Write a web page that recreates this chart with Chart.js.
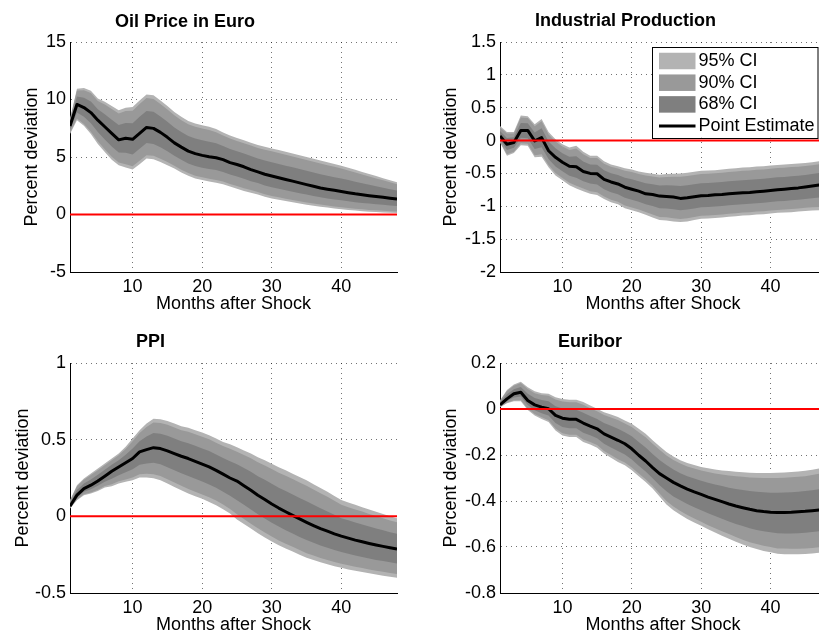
<!DOCTYPE html>
<html><head><meta charset="utf-8">
<script src="https://cdn.jsdelivr.net/npm/chart.js@4.4.1/dist/chart.umd.min.js"></script>
<style>
html,body{margin:0;padding:0;background:#fff;}
body{width:819px;height:637px;overflow:hidden;position:relative;}
canvas{position:absolute;}
</style></head><body>
<canvas id="c1" width="410" height="318" style="left:0px;top:0px"></canvas>
<canvas id="c2" width="430" height="318" style="left:410px;top:0px"></canvas>
<canvas id="c3" width="410" height="319" style="left:0px;top:318px"></canvas>
<canvas id="c4" width="430" height="319" style="left:410px;top:318px"></canvas>
<script>
// ---------------- DATA ----------------
const months = [1,2,3,4,5,6,7,8,9,10,11,12,13,14,15,16,17,18,19,20,21,22,23,24,25,26,27,28,29,30,31,32,33,34,35,36,37,38,39,40,41,42,43,44,45,46,47,48];
const xTicks = [10,20,30,40];
const xTickLabels = ['10','20','30','40'];
const xAxisTitle = 'Months after Shock';
const yAxisTitle = 'Percent deviation';
const ciLabels = ['95% CI','90% CI','68% CI'];
const pointLabel = 'Point Estimate';
const referenceLevel = 0;

// Oil Price in Euro
const oilTitle = 'Oil Price in Euro';
const oilYTicks = [-5,0,5,10,15];
const oilYLabels = ['-5','0','5','10','15'];
const oilEst = [7.7,9.57,9.3,8.86,8.2,7.63,7.06,6.49,6.63,6.54,7.06,7.57,7.49,7.14,6.71,6.23,5.86,5.51,5.29,5.14,5.03,4.94,4.77,4.51,4.35,4.15,3.9,3.7,3.5,3.35,3.2,3.05,2.9,2.75,2.6,2.45,2.3,2.2,2.1,2.0,1.9,1.8,1.72,1.64,1.56,1.49,1.42,1.35];
const oilU95 = [8.3,10.94,11.0,10.77,10.09,9.8,9.43,9.06,9.29,9.34,9.91,10.43,10.37,9.91,9.43,8.91,8.49,8.14,7.91,7.77,7.63,7.43,7.14,6.86,6.65,6.45,6.25,6.05,5.9,5.75,5.6,5.45,5.3,5.15,5.0,4.85,4.7,4.55,4.4,4.25,4.07,3.89,3.7,3.52,3.34,3.15,2.97,2.8];
const oilL95 = [7.0,8.2,7.71,7.0,6.14,5.43,4.77,4.29,4.09,3.91,4.37,4.86,4.8,4.57,4.29,4.0,3.66,3.37,3.14,3.0,2.86,2.77,2.63,2.43,2.25,2.05,1.9,1.75,1.55,1.4,1.28,1.17,1.06,0.95,0.85,0.76,0.68,0.6,0.52,0.45,0.39,0.34,0.29,0.25,0.21,0.18,0.15,0.12];
const oilU90 = [8.23,10.79,10.81,10.56,9.88,9.56,9.17,8.78,9.0,9.03,9.6,10.12,10.05,9.61,9.13,8.62,8.2,7.85,7.62,7.48,7.34,7.16,6.88,6.6,6.4,6.2,5.99,5.79,5.64,5.49,5.34,5.19,5.04,4.89,4.74,4.59,4.44,4.29,4.15,4.0,3.83,3.66,3.48,3.31,3.14,2.97,2.8,2.64];
const oilL90 = [7.08,8.35,7.88,7.2,6.37,5.67,5.02,4.53,4.37,4.2,4.67,5.16,5.1,4.85,4.56,4.25,3.9,3.61,3.38,3.24,3.1,3.01,2.87,2.66,2.48,2.28,2.12,1.96,1.76,1.61,1.49,1.38,1.26,1.15,1.04,0.95,0.86,0.78,0.69,0.62,0.56,0.5,0.45,0.4,0.36,0.32,0.29,0.26];
const oilU68 = [8.0,10.26,10.15,9.82,9.15,8.72,8.25,7.78,7.96,7.94,8.49,9.0,8.93,8.53,8.07,7.57,7.18,6.83,6.6,6.46,6.33,6.19,5.96,5.69,5.5,5.3,5.08,4.88,4.7,4.55,4.4,4.25,4.1,3.95,3.8,3.65,3.5,3.38,3.25,3.13,2.99,2.85,2.71,2.58,2.45,2.32,2.2,2.08];
const oilL68 = [7.35,8.88,8.5,7.93,7.17,6.53,5.91,5.39,5.36,5.22,5.71,6.21,6.14,5.85,5.5,5.11,4.76,4.44,4.21,4.07,3.95,3.86,3.7,3.47,3.3,3.1,2.9,2.73,2.53,2.38,2.24,2.11,1.98,1.85,1.73,1.61,1.49,1.4,1.31,1.23,1.15,1.07,1.0,0.95,0.89,0.84,0.79,0.74];

// Industrial Production
const ipTitle = 'Industrial Production';
const ipYTicks = [-2,-1.5,-1,-0.5,0,0.5,1,1.5];
const ipYLabels = ['-2','-1.5','-1','-0.5','0','0.5','1','1.5'];
const ipEst = [0.07,-0.055,-0.03,0.155,0.155,-0.005,0.045,-0.155,-0.255,-0.33,-0.39,-0.4,-0.47,-0.5,-0.505,-0.59,-0.63,-0.66,-0.71,-0.74,-0.77,-0.81,-0.82,-0.845,-0.85,-0.86,-0.88,-0.87,-0.855,-0.84,-0.835,-0.825,-0.82,-0.81,-0.8,-0.795,-0.79,-0.78,-0.77,-0.76,-0.75,-0.74,-0.73,-0.72,-0.705,-0.69,-0.675,-0.66];
const ipU95 = [0.22,0.13,0.13,0.38,0.37,0.25,0.33,0.13,0.02,-0.055,-0.105,-0.08,-0.17,-0.23,-0.23,-0.315,-0.365,-0.39,-0.42,-0.44,-0.47,-0.49,-0.505,-0.52,-0.51,-0.505,-0.5,-0.49,-0.475,-0.46,-0.455,-0.45,-0.44,-0.43,-0.42,-0.41,-0.405,-0.395,-0.39,-0.38,-0.37,-0.365,-0.355,-0.35,-0.34,-0.33,-0.315,-0.3];
const ipL95 = [-0.03,-0.23,-0.19,-0.07,-0.08,-0.255,-0.245,-0.405,-0.53,-0.605,-0.68,-0.73,-0.77,-0.81,-0.83,-0.89,-0.94,-0.97,-1.03,-1.06,-1.09,-1.13,-1.17,-1.21,-1.215,-1.23,-1.24,-1.23,-1.21,-1.19,-1.185,-1.18,-1.17,-1.16,-1.15,-1.14,-1.135,-1.125,-1.12,-1.11,-1.1,-1.095,-1.09,-1.08,-1.07,-1.065,-1.06,-1.05];
const ipU90 = [0.2,0.106,0.109,0.351,0.342,0.217,0.293,0.093,-0.016,-0.091,-0.142,-0.122,-0.209,-0.265,-0.266,-0.351,-0.4,-0.425,-0.458,-0.479,-0.509,-0.532,-0.546,-0.562,-0.554,-0.551,-0.549,-0.539,-0.524,-0.509,-0.504,-0.499,-0.489,-0.479,-0.469,-0.46,-0.455,-0.445,-0.439,-0.429,-0.419,-0.414,-0.404,-0.398,-0.387,-0.377,-0.362,-0.347];
const ipL90 = [-0.017,-0.207,-0.169,-0.041,-0.049,-0.223,-0.207,-0.373,-0.494,-0.569,-0.642,-0.687,-0.731,-0.77,-0.788,-0.851,-0.9,-0.93,-0.988,-1.018,-1.048,-1.088,-1.125,-1.163,-1.168,-1.182,-1.193,-1.183,-1.164,-1.145,-1.14,-1.134,-1.125,-1.115,-1.105,-1.095,-1.09,-1.08,-1.075,-1.065,-1.055,-1.049,-1.043,-1.033,-1.023,-1.016,-1.01,-1.0];
const ipU68 = [0.145,0.038,0.05,0.268,0.263,0.123,0.188,-0.013,-0.118,-0.193,-0.248,-0.24,-0.32,-0.365,-0.368,-0.453,-0.498,-0.525,-0.565,-0.59,-0.62,-0.65,-0.663,-0.683,-0.68,-0.683,-0.69,-0.68,-0.665,-0.65,-0.645,-0.638,-0.63,-0.62,-0.61,-0.603,-0.598,-0.588,-0.58,-0.57,-0.56,-0.553,-0.543,-0.535,-0.523,-0.51,-0.495,-0.48];
const ipL68 = [0.02,-0.143,-0.11,0.043,0.037,-0.13,-0.1,-0.28,-0.393,-0.468,-0.535,-0.565,-0.62,-0.655,-0.668,-0.74,-0.785,-0.815,-0.87,-0.9,-0.93,-0.97,-0.995,-1.028,-1.033,-1.045,-1.06,-1.05,-1.033,-1.015,-1.01,-1.003,-0.995,-0.985,-0.975,-0.968,-0.963,-0.953,-0.945,-0.935,-0.925,-0.918,-0.91,-0.9,-0.888,-0.878,-0.868,-0.855];

// PPI
const ppiTitle = 'PPI';
const ppiYTicks = [-0.5,0,0.5,1];
const ppiYLabels = ['-0.5','0','0.5','1'];
const ppiEst = [0.066,0.138,0.181,0.203,0.231,0.262,0.294,0.322,0.349,0.377,0.42,0.435,0.448,0.442,0.427,0.409,0.392,0.377,0.359,0.34,0.322,0.3,0.275,0.25,0.23,0.2,0.17,0.138,0.11,0.08,0.054,0.03,0.006,-0.017,-0.039,-0.06,-0.08,-0.097,-0.114,-0.129,-0.142,-0.155,-0.166,-0.177,-0.187,-0.196,-0.205,-0.213];
const ppiU95 = [0.105,0.203,0.246,0.279,0.312,0.344,0.377,0.409,0.453,0.507,0.561,0.605,0.637,0.633,0.622,0.605,0.587,0.577,0.561,0.546,0.529,0.507,0.485,0.47,0.45,0.43,0.41,0.385,0.365,0.343,0.32,0.3,0.278,0.256,0.235,0.21,0.185,0.16,0.133,0.106,0.09,0.075,0.06,0.045,0.03,0.015,0.0,-0.013];
const ppiL95 = [0.051,0.105,0.138,0.149,0.166,0.188,0.196,0.214,0.225,0.236,0.253,0.253,0.249,0.236,0.214,0.192,0.17,0.149,0.131,0.114,0.094,0.073,0.047,0.018,-0.02,-0.05,-0.08,-0.11,-0.138,-0.164,-0.188,-0.21,-0.23,-0.25,-0.27,-0.285,-0.3,-0.313,-0.325,-0.336,-0.346,-0.355,-0.363,-0.372,-0.38,-0.387,-0.394,-0.4];
const ppiU90 = [0.1,0.195,0.238,0.269,0.301,0.333,0.366,0.398,0.439,0.49,0.543,0.583,0.612,0.608,0.597,0.58,0.562,0.551,0.535,0.519,0.502,0.48,0.458,0.441,0.421,0.4,0.379,0.353,0.332,0.309,0.285,0.265,0.243,0.221,0.199,0.175,0.151,0.127,0.101,0.075,0.06,0.045,0.031,0.016,0.002,-0.012,-0.027,-0.039];
const ppiL90 = [0.053,0.109,0.144,0.156,0.174,0.198,0.209,0.228,0.241,0.254,0.275,0.277,0.275,0.263,0.242,0.22,0.199,0.179,0.161,0.143,0.124,0.103,0.077,0.048,0.013,-0.018,-0.048,-0.078,-0.106,-0.132,-0.157,-0.179,-0.199,-0.22,-0.24,-0.256,-0.271,-0.285,-0.298,-0.309,-0.319,-0.329,-0.337,-0.347,-0.355,-0.362,-0.369,-0.376];
const ppiU68 = [0.086,0.171,0.214,0.241,0.272,0.303,0.336,0.366,0.401,0.442,0.49,0.52,0.543,0.538,0.525,0.507,0.49,0.477,0.46,0.443,0.426,0.404,0.38,0.36,0.34,0.315,0.29,0.262,0.238,0.212,0.187,0.165,0.142,0.12,0.098,0.075,0.053,0.032,0.01,-0.012,-0.026,-0.04,-0.053,-0.066,-0.079,-0.091,-0.103,-0.113];
const ppiL68 = [0.058,0.122,0.16,0.176,0.199,0.225,0.245,0.268,0.287,0.307,0.337,0.344,0.349,0.339,0.32,0.3,0.281,0.263,0.245,0.227,0.208,0.187,0.161,0.134,0.105,0.075,0.045,0.014,-0.014,-0.042,-0.067,-0.09,-0.112,-0.134,-0.155,-0.173,-0.19,-0.205,-0.22,-0.233,-0.244,-0.255,-0.265,-0.275,-0.284,-0.292,-0.3,-0.307];

// Euribor
const eurTitle = 'Euribor';
const eurYTicks = [-0.8,-0.6,-0.4,-0.2,0,0.2];
const eurYLabels = ['-0.8','-0.6','-0.4','-0.2','0','0.2'];
const eurEst = [0.018,0.044,0.066,0.073,0.037,0.018,0.008,0.001,-0.028,-0.04,-0.045,-0.045,-0.061,-0.074,-0.086,-0.108,-0.122,-0.136,-0.151,-0.173,-0.201,-0.226,-0.255,-0.281,-0.3,-0.319,-0.334,-0.348,-0.36,-0.371,-0.383,-0.393,-0.403,-0.413,-0.422,-0.429,-0.436,-0.442,-0.446,-0.449,-0.45,-0.45,-0.449,-0.447,-0.445,-0.442,-0.439,-0.436];
const eurU95 = [0.037,0.083,0.106,0.119,0.095,0.077,0.069,0.066,0.051,0.044,0.04,0.04,0.03,0.015,0.001,-0.014,-0.024,-0.035,-0.05,-0.064,-0.086,-0.108,-0.136,-0.162,-0.187,-0.207,-0.223,-0.235,-0.244,-0.252,-0.258,-0.263,-0.267,-0.27,-0.273,-0.275,-0.277,-0.278,-0.278,-0.278,-0.277,-0.276,-0.274,-0.272,-0.269,-0.264,-0.259,-0.254];
const eurL95 = [0.008,0.025,0.034,0.034,-0.004,-0.028,-0.043,-0.057,-0.093,-0.115,-0.122,-0.122,-0.144,-0.154,-0.168,-0.194,-0.212,-0.23,-0.245,-0.266,-0.292,-0.317,-0.346,-0.38,-0.415,-0.44,-0.46,-0.478,-0.493,-0.508,-0.523,-0.537,-0.551,-0.564,-0.577,-0.589,-0.6,-0.609,-0.617,-0.623,-0.629,-0.631,-0.632,-0.632,-0.63,-0.628,-0.625,-0.622];
const eurU90 = [0.035,0.078,0.101,0.113,0.087,0.069,0.061,0.058,0.041,0.033,0.029,0.029,0.018,0.003,-0.01,-0.026,-0.037,-0.048,-0.063,-0.078,-0.101,-0.123,-0.151,-0.177,-0.202,-0.222,-0.237,-0.25,-0.259,-0.267,-0.274,-0.28,-0.285,-0.289,-0.292,-0.295,-0.298,-0.299,-0.3,-0.3,-0.3,-0.299,-0.297,-0.295,-0.292,-0.287,-0.282,-0.278];
const eurL90 = [0.009,0.027,0.038,0.039,0.001,-0.022,-0.036,-0.049,-0.085,-0.105,-0.112,-0.112,-0.133,-0.144,-0.157,-0.183,-0.2,-0.218,-0.233,-0.254,-0.28,-0.305,-0.334,-0.367,-0.4,-0.424,-0.444,-0.461,-0.476,-0.49,-0.505,-0.518,-0.532,-0.544,-0.557,-0.568,-0.579,-0.587,-0.595,-0.6,-0.606,-0.607,-0.608,-0.608,-0.606,-0.604,-0.601,-0.598];
const eurU68 = [0.028,0.064,0.086,0.096,0.066,0.048,0.039,0.034,0.012,0.002,-0.003,-0.003,-0.016,-0.03,-0.043,-0.061,-0.073,-0.086,-0.101,-0.119,-0.144,-0.167,-0.196,-0.222,-0.244,-0.263,-0.279,-0.292,-0.302,-0.312,-0.321,-0.328,-0.335,-0.342,-0.348,-0.352,-0.357,-0.36,-0.362,-0.364,-0.364,-0.363,-0.362,-0.36,-0.357,-0.353,-0.349,-0.345];
const eurL68 = [0.013,0.035,0.05,0.054,0.017,-0.005,-0.018,-0.028,-0.061,-0.078,-0.084,-0.084,-0.103,-0.114,-0.127,-0.151,-0.167,-0.183,-0.198,-0.22,-0.247,-0.272,-0.301,-0.331,-0.358,-0.38,-0.397,-0.413,-0.427,-0.44,-0.453,-0.465,-0.477,-0.489,-0.5,-0.509,-0.518,-0.526,-0.532,-0.536,-0.54,-0.541,-0.541,-0.54,-0.538,-0.535,-0.532,-0.529];

// ---------------- STYLE / LAYOUT ----------------
const FONT = "'Liberation Sans', Arial, Helvetica, sans-serif";
const FS = 18;
const COL95 = '#b3b3b3', COL90 = '#999999', COL68 = '#7f7f7f';
const GRID = 'rgba(0,0,0,0.55)';
Chart.defaults.font.family = FONT;
Chart.defaults.color = '#000';

const panelTitlePlugin = {
  id: 'panelTitle',
  afterDraw(chart, args, o) {
    const ctx = chart.ctx;
    ctx.save();
    ctx.font = 'bold ' + FS + 'px ' + FONT;
    ctx.fillStyle = '#000';
    ctx.textAlign = 'center';
    ctx.textBaseline = 'middle';
    ctx.fillText(o.text, o.x, o.y);
    ctx.restore();
  }
};

const ciLegendPlugin = {
  id: 'ciLegend',
  afterDraw(chart, args, o) {
    if (!o.show) return;
    const ctx = chart.ctx, ca = chart.chartArea;
    const items = chart.data.datasets.filter(d => d.legendKind);
    const x0 = ca.left + o.dx, y0 = ca.top + o.dy;
    ctx.save();
    ctx.fillStyle = '#fff';
    ctx.fillRect(x0, y0, o.w, o.h);
    ctx.strokeStyle = '#000';
    ctx.lineWidth = 1;
    ctx.strokeRect(Math.round(x0) + 0.5, Math.round(y0) + 0.5, o.w, o.h);
    ctx.font = FS + 'px ' + FONT;
    ctx.textBaseline = 'middle';
    ctx.textAlign = 'left';
    items.forEach((d, i) => {
      const cy = y0 + o.rowStart + i * o.rowStep;
      if (d.legendKind === 'box') {
        ctx.fillStyle = d.backgroundColor;
        ctx.fillRect(x0 + o.swX, cy - o.swH / 2, o.swW, o.swH);
      } else {
        ctx.strokeStyle = d.borderColor;
        ctx.lineWidth = d.borderWidth;
        ctx.beginPath();
        ctx.moveTo(x0 + o.swX, cy);
        ctx.lineTo(x0 + o.swX + o.swW, cy);
        ctx.stroke();
      }
      ctx.fillStyle = '#000';
      ctx.fillText(d.label, x0 + o.textX, cy);
    });
    ctx.restore();
  }
};

function pts(arr) { return arr.map((v, i) => ({x: months[i], y: v})); }

function makePanel(id, P, L) {
  const datasets = [
    {label: ciLabels[0], data: pts(P.u95), fill: '+1', backgroundColor: COL95, borderColor: 'transparent', borderWidth: 0, pointRadius: 0, order: 5, legendKind: 'box'},
    {label: ciLabels[0] + ' lower', data: pts(P.l95), fill: false, borderColor: 'transparent', borderWidth: 0, pointRadius: 0, order: 5},
    {label: ciLabels[1], data: pts(P.u90), fill: '+1', backgroundColor: COL90, borderColor: 'transparent', borderWidth: 0, pointRadius: 0, order: 4, legendKind: 'box'},
    {label: ciLabels[1] + ' lower', data: pts(P.l90), fill: false, borderColor: 'transparent', borderWidth: 0, pointRadius: 0, order: 4},
    {label: ciLabels[2], data: pts(P.u68), fill: '+1', backgroundColor: COL68, borderColor: 'transparent', borderWidth: 0, pointRadius: 0, order: 3, legendKind: 'box'},
    {label: ciLabels[2] + ' lower', data: pts(P.l68), fill: false, borderColor: 'transparent', borderWidth: 0, pointRadius: 0, order: 3},
    {label: pointLabel, data: pts(P.est), fill: false, borderColor: '#000', borderWidth: 3, pointRadius: 0, tension: 0, borderJoinStyle: 'round', order: 1, legendKind: 'line'},
    {label: 'zero', data: [{x: months[0], y: referenceLevel}, {x: months[months.length - 1], y: referenceLevel}], fill: false, borderColor: '#ff0000', borderWidth: 2, pointRadius: 0, order: 0}
  ];
  return new Chart(document.getElementById(id), {
    type: 'line',
    data: {datasets},
    plugins: [panelTitlePlugin, ciLegendPlugin],
    options: {
      responsive: false,
      animation: false,
      devicePixelRatio: 1,
      events: [],
      layout: {padding: {top: L.padTop, right: L.padRight, left: 0, bottom: 0}},
      plugins: {
        legend: {display: false},
        tooltip: {enabled: false},
        panelTitle: {text: P.title, x: L.titleX, y: L.titleY},
        ciLegend: {show: !!L.legend, dx: 152, dy: 4.7, w: 165.5, h: 91, rowStart: 14.3, rowStep: 21.7, swX: 7, swW: 36.5, swH: 16.5, textX: 46.5}
      },
      scales: {
        x: {
          type: 'linear', min: months[0], max: months[months.length - 1],
          afterBuildTicks: s => { s.ticks = xTicks.map(v => ({value: v})); },
          afterFit: s => { s.height = L.xAxisH; },
          ticks: {callback: v => xTickLabels[xTicks.indexOf(v)], font: {size: FS}, color: '#000', padding: L.xTickPad, maxRotation: 0, autoSkip: false},
          grid: {color: GRID, lineWidth: 1, drawTicks: false},
          border: {display: true, color: '#000', width: 1, dash: [1, 4]},
          title: {display: true, text: xAxisTitle, font: {size: FS}, color: '#000', padding: {top: 0, bottom: L.xTitlePad}}
        },
        y: {
          type: 'linear', min: P.yTicks[0], max: P.yTicks[P.yTicks.length - 1],
          afterBuildTicks: s => { s.ticks = P.yTicks.map(v => ({value: v})); },
          afterFit: s => { s.width = L.yAxisW; },
          ticks: {callback: v => P.yLabels[P.yTicks.indexOf(v)], font: {size: FS}, color: '#000', padding: 4},
          grid: {color: GRID, lineWidth: 1, drawTicks: false},
          border: {display: true, color: '#000', width: 1, dash: [1, 4]},
          title: {display: true, text: yAxisTitle, font: {size: FS}, color: '#000', padding: {top: L.yTitlePad, bottom: 0}}
        }
      }
    }
  });
}

makePanel('c1',
  {title: oilTitle, yTicks: oilYTicks, yLabels: oilYLabels, est: oilEst, u95: oilU95, l95: oilL95, u90: oilU90, l90: oilL90, u68: oilU68, l68: oilL68},
  {yAxisW: 70, padRight: 13, padTop: 42, xAxisH: 46, xTickPad: 4, xTitlePad: 3, yTitlePad: 21.7, titleX: 185, titleY: 21.7});
makePanel('c2',
  {title: ipTitle, yTicks: ipYTicks, yLabels: ipYLabels, est: ipEst, u95: ipU95, l95: ipL95, u90: ipU90, l90: ipL90, u68: ipU68, l68: ipL68},
  {yAxisW: 90, padRight: 14, padTop: 42, xAxisH: 46, xTickPad: 4, xTitlePad: 3, yTitlePad: 30.2, titleX: 215.5, titleY: 21.5, legend: true});
makePanel('c3',
  {title: ppiTitle, yTicks: ppiYTicks, yLabels: ppiYLabels, est: ppiEst, u95: ppiU95, l95: ppiL95, u90: ppiU90, l90: ppiL90, u68: ppiU68, l68: ppiL68},
  {yAxisW: 70, padRight: 13, padTop: 45, xAxisH: 44, xTickPad: 4, xTitlePad: 1.5, yTitlePad: 12.2, titleX: 150.5, titleY: 24});
makePanel('c4',
  {title: eurTitle, yTicks: eurYTicks, yLabels: eurYLabels, est: eurEst, u95: eurU95, l95: eurL95, u90: eurU90, l90: eurL90, u68: eurU68, l68: eurL68},
  {yAxisW: 90, padRight: 14, padTop: 45, xAxisH: 44, xTickPad: 4, xTitlePad: 1.5, yTitlePad: 30.2, titleX: 180, titleY: 24});
</script>
</body></html>
